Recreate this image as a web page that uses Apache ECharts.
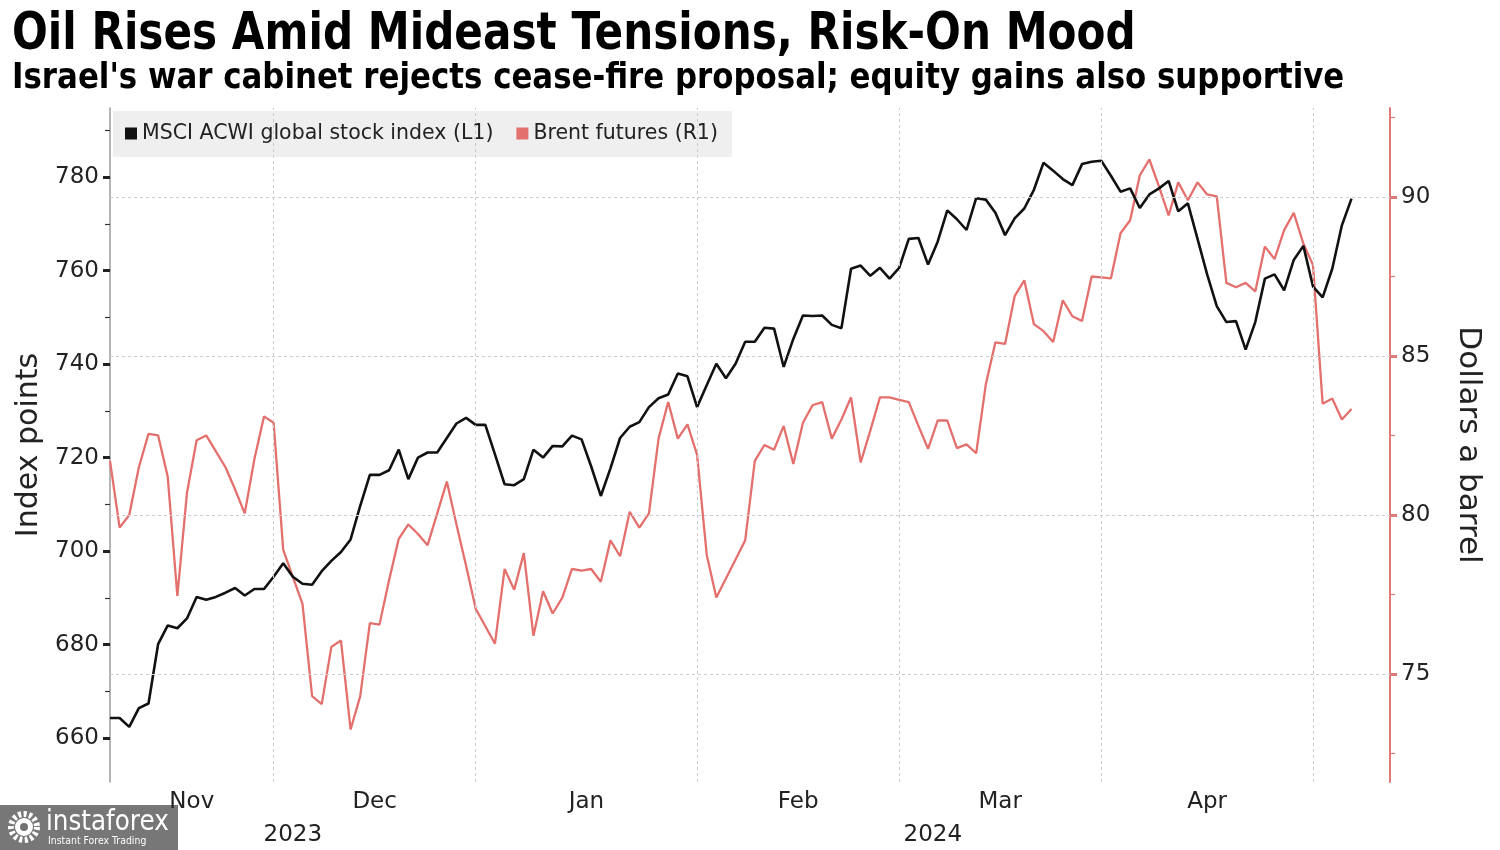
<!DOCTYPE html>
<html>
<head>
<meta charset="utf-8">
<script src="https://cdn.jsdelivr.net/npm/echarts@6/dist/echarts.min.js"></script>
<style>
html,body{margin:0;padding:0;background:#fff;overflow:hidden}
#chart{width:1500px;height:850px}
</style>
</head>
<body>
<div id="chart"></div>
<script>
const titleText = 'Oil Rises Amid Mideast Tensions, Risk-On Mood';
const subtitleText = "Israel's war cabinet rejects cease-fire proposal; equity gains also supportive";
const seriesNames = ['MSCI ACWI global stock index (L1)', 'Brent futures (R1)'];
const leftAxisName = 'Index points';
const rightAxisName = 'Dollars a barrel';

// trading days (weekdays) on the horizontal axis
const dates = [
  '2023-11-07','2023-11-08','2023-11-09','2023-11-10','2023-11-13','2023-11-14','2023-11-15','2023-11-16','2023-11-17',
  '2023-11-20','2023-11-21','2023-11-22','2023-11-23','2023-11-24','2023-11-27','2023-11-28','2023-11-29','2023-11-30',
  '2023-12-01','2023-12-04','2023-12-05','2023-12-06','2023-12-07','2023-12-08','2023-12-11','2023-12-12','2023-12-13',
  '2023-12-14','2023-12-15','2023-12-18','2023-12-19','2023-12-20','2023-12-21','2023-12-22','2023-12-25','2023-12-26',
  '2023-12-27','2023-12-28','2023-12-29',
  '2024-01-01','2024-01-02','2024-01-03','2024-01-04','2024-01-05','2024-01-08','2024-01-09','2024-01-10','2024-01-11',
  '2024-01-12','2024-01-15','2024-01-16','2024-01-17','2024-01-18','2024-01-19','2024-01-22','2024-01-23','2024-01-24',
  '2024-01-25','2024-01-26','2024-01-29','2024-01-30','2024-01-31',
  '2024-02-01','2024-02-02','2024-02-05','2024-02-06','2024-02-07','2024-02-08','2024-02-09','2024-02-12','2024-02-13',
  '2024-02-14','2024-02-15','2024-02-16','2024-02-19','2024-02-20','2024-02-21','2024-02-22','2024-02-23','2024-02-26',
  '2024-02-27','2024-02-28','2024-02-29',
  '2024-03-01','2024-03-04','2024-03-05','2024-03-06','2024-03-07','2024-03-08','2024-03-11','2024-03-12','2024-03-13',
  '2024-03-14','2024-03-15','2024-03-18','2024-03-19','2024-03-20','2024-03-21','2024-03-22','2024-03-25','2024-03-26',
  '2024-03-27','2024-03-28','2024-03-29',
  '2024-04-01','2024-04-02','2024-04-03','2024-04-04','2024-04-05','2024-04-08','2024-04-09','2024-04-10','2024-04-11',
  '2024-04-12','2024-04-15','2024-04-16','2024-04-17','2024-04-18','2024-04-19','2024-04-22','2024-04-23','2024-04-24',
  '2024-04-25','2024-04-26','2024-04-29','2024-04-30',
  '2024-05-01','2024-05-02','2024-05-03','2024-05-06'
];

// MSCI ACWI (left axis, index points)
const msciAcwi = [
  664.3,664.3,662.4,666.4,667.4,680.1,684.1,683.5,685.6,690.2,689.6,690.2,691.1,692.1,690.5,691.9,691.9,694.5,
  697.4,694.5,693.0,692.8,695.7,697.9,699.8,702.5,709.7,716.3,716.3,717.3,721.7,715.4,720.0,721.1,721.1,724.2,727.3,728.5,727.0,
  727.0,720.7,714.3,714.1,715.4,721.7,720.0,722.5,722.4,724.7,723.9,718.1,711.8,717.7,724.2,726.6,727.6,730.8,732.7,733.5,738.0,737.4,730.8,
  735.5,740.1,737.0,740.1,744.8,744.8,747.8,747.6,739.4,745.4,750.4,750.3,750.4,748.4,747.7,760.4,761.1,758.9,760.6,758.3,760.6,
  766.8,767.0,761.3,766.2,772.9,771.0,768.7,775.5,775.2,772.4,767.6,771.2,773.3,777.3,783.1,781.4,779.6,778.3,782.8,783.3,783.5,
  780.3,776.9,777.6,773.4,776.3,777.6,779.2,772.7,774.4,766.8,759.2,752.4,749.0,749.2,743.1,749.0,758.3,759.2,755.8,762.3,765.3,756.6,
  754.3,760.4,769.7,775.4
];

// Brent futures (right axis, dollars a barrel); null = no print
const brent = [
  81.7,79.6,80.0,81.5,82.55,82.5,81.2,77.45,80.7,82.35,82.5,82.0,81.5,80.8,80.05,81.75,83.1,82.9,
  78.9,78.05,77.2,74.3,74.05,75.85,76.05,73.25,74.3,76.6,76.55,77.95,79.25,79.7,79.4,79.05,null,81.05,79.7,78.4,77.05,
  null,75.95,78.3,77.65,78.8,76.2,77.6,76.9,77.4,78.3,78.25,78.3,77.9,79.2,78.7,80.1,79.6,80.05,82.4,83.55,82.4,82.85,81.9,
  78.75,77.4,78.0,78.6,79.2,81.7,82.2,82.05,82.8,81.6,82.9,83.45,83.55,82.4,83.0,83.7,81.65,82.65,83.7,83.7,83.62,
  83.55,82.8,82.08,82.97,82.97,82.1,82.22,81.94,84.1,85.43,85.38,86.88,87.38,86.0,85.78,85.44,86.75,86.25,86.1,87.5,87.47,
  87.44,88.86,89.27,90.68,91.18,90.33,89.42,90.46,89.9,90.46,90.08,90.02,87.3,87.16,87.3,87.03,88.44,88.05,88.96,89.5,88.53,87.86,
  83.5,83.66,83.0,83.33
];

const leftAxisLabels = [660, 680, 700, 720, 740, 760, 780];
const leftAxisMinorTicks = [670, 690, 710, 730, 750, 770, 790];
const rightAxisLabels = [75, 80, 85, 90];
const rightAxisMinorTicks = [72.5, 77.5, 82.5, 87.5, 92.5];
const monthAbbr = ['Jan','Feb','Mar','Apr','May','Jun','Jul','Aug','Sep','Oct','Nov','Dec'];

const axisSlots = 133;            // trading-day slots shown on the time axis
const leftRange = [650.6, 794.8];
const rightRange = [71.6, 92.8];

const FONT = '"DejaVu Sans", "Noto Sans", sans-serif';
const BLACK = '#111111';
const RED = '#e4706e';
const AXIS_RED = '#e07a78';

// month / year boundaries derived from the dates
const monthEnds = [], yearEnds = [];
for (let i = 0; i < dates.length - 1; i++) {
  if (dates[i].slice(5, 7) !== dates[i + 1].slice(5, 7)) monthEnds.push(i);
  if (dates[i].slice(0, 4) !== dates[i + 1].slice(0, 4)) yearEnds.push(i);
}
function spans(ends, labelOf) {
  const starts = [0].concat(ends), stops = ends.concat([axisSlots]);
  const out = [];
  for (let k = 0; k < starts.length; k++) {
    const first = k === 0 ? 0 : starts[k] + 1;
    out.push({ center: (starts[k] + stops[k]) / 2, width: stops[k] - starts[k], label: labelOf(dates[first]) });
  }
  return out;
}
const monthSpans = spans(monthEnds, d => monthAbbr[+d.slice(5, 7) - 1]).filter(s => s.width >= 10);
const yearSpans = spans(yearEnds, d => d.slice(0, 4));
const monthLabelMap = {}; monthSpans.forEach(s => monthLabelMap[s.center.toFixed(2)] = s.label);
const yearLabelMap = {}; yearSpans.forEach(s => yearLabelMap[s.center.toFixed(2)] = s.label);

const msciData = msciAcwi.map((v, i) => [i, v]);
const brentData = brent.map((v, i) => [i, v]).filter(p => p[1] !== null);

const chart = echarts.init(document.getElementById('chart'), null, { renderer: 'canvas' });

const xBase = {
  type: 'value', min: 0, max: axisSlots, gridIndex: 0,
  axisLine: { show: false, onZero: false }, axisTick: { show: false }, splitLine: { show: false }
};

const option = {
  backgroundColor: '#ffffff',
  animation: false,
  grid: { left: 110, right: 110, top: 108, bottom: 68, containLabel: false },
  legend: {
    data: seriesNames,
    left: 113, top: 111,
    padding: [12, 14, 13, 12],
    itemGap: 23, itemWidth: 12, itemHeight: 12,
    icon: 'rect',
    backgroundColor: '#efefef',
    textStyle: { fontSize: 20.5, color: '#222', fontFamily: FONT },
    itemStyle: { borderWidth: 0 }
  },
  xAxis: [
    Object.assign({}, xBase, {
      position: 'bottom',
      axisLabel: {
        customValues: monthSpans.map(s => s.center),
        formatter: v => monthLabelMap[Number(v).toFixed(2)] || '',
        fontSize: 23, color: '#222', fontFamily: FONT, margin: 9
      }
    }),
    Object.assign({}, xBase, {
      position: 'bottom', offset: 33,
      axisLabel: {
        customValues: yearSpans.map(s => s.center),
        formatter: v => yearLabelMap[Number(v).toFixed(2)] || '',
        fontSize: 23, color: '#222', fontFamily: FONT, margin: 9
      }
    })
  ],
  yAxis: [
    {
      type: 'value', position: 'left', min: leftRange[0], max: leftRange[1],
      name: leftAxisName, nameLocation: 'middle', nameGap: 63,
      nameTextStyle: { fontSize: 30, color: '#222', fontFamily: FONT },
      axisLine: { show: true, onZero: false, lineStyle: { color: '#9c9c9c', width: 1.5 } },
      axisTick: { show: true, customValues: leftAxisLabels, length: 7, lineStyle: { color: '#222', width: 3 } },
      axisLabel: { customValues: leftAxisLabels, fontSize: 23, color: '#222', fontFamily: FONT, margin: 11 },
      splitLine: { show: false }
    },
    {
      type: 'value', position: 'right', min: rightRange[0], max: rightRange[1],
      name: rightAxisName, nameLocation: 'middle', nameGap: 63, nameRotate: -90,
      nameTextStyle: { fontSize: 31, color: '#222', fontFamily: FONT },
      axisLine: { show: true, onZero: false, lineStyle: { color: AXIS_RED, width: 2 } },
      axisTick: { show: true, customValues: rightAxisLabels, length: 7, lineStyle: { color: AXIS_RED, width: 3 } },
      axisLabel: { customValues: rightAxisLabels, fontSize: 23, color: '#222', fontFamily: FONT, margin: 11 },
      splitLine: { show: false }
    },
    {
      type: 'value', position: 'left', min: leftRange[0], max: leftRange[1],
      axisLine: { show: false, onZero: false },
      axisTick: { show: true, customValues: leftAxisMinorTicks, length: 5, lineStyle: { color: '#333', width: 1.2 } },
      axisLabel: { show: false }, splitLine: { show: false }
    },
    {
      type: 'value', position: 'right', min: rightRange[0], max: rightRange[1],
      axisLine: { show: false, onZero: false },
      axisTick: { show: true, customValues: rightAxisMinorTicks, length: 5, lineStyle: { color: AXIS_RED, width: 1.2 } },
      axisLabel: { show: false }, splitLine: { show: false }
    }
  ],
  series: [
    {
      name: 'gridlines', type: 'line', xAxisIndex: 0, yAxisIndex: 1, z: 1, silent: true,
      data: brentData, symbol: 'none', lineStyle: { opacity: 0 }, tooltip: { show: false },
      markLine: {
        silent: true, symbol: 'none', label: { show: false }, animation: false,
        lineStyle: { color: '#cdcdcd', type: [3, 3], width: 1 },
        data: rightAxisLabels.map(v => ({ yAxis: v })).concat(monthEnds.map(i => ({ xAxis: i })))
      }
    },
    {
      name: seriesNames[1], type: 'line', xAxisIndex: 0, yAxisIndex: 1, z: 3,
      data: brentData, symbol: 'none', showSymbol: false,
      lineStyle: { color: RED, width: 2.3 }, itemStyle: { color: RED }
    },
    {
      name: seriesNames[0], type: 'line', xAxisIndex: 0, yAxisIndex: 0, z: 4,
      data: msciData, symbol: 'none', showSymbol: false,
      lineStyle: { color: BLACK, width: 2.6 }, itemStyle: { color: BLACK }
    }
  ],
  graphic: [
    { type: 'text', x: 12, y: 9, scaleX: 0.811, z: 10,
      style: { text: titleText, fontSize: 52, fontWeight: 'bold', fontFamily: FONT, fill: '#000', verticalAlign: 'top' } },
    { type: 'text', x: 12, y: 61, scaleX: 0.857, z: 10,
      style: { text: subtitleText, fontSize: 36, fontWeight: 'bold', fontFamily: FONT, fill: '#000', verticalAlign: 'top' } },
    { type: 'group', z: 20, children: [
      { type: 'rect', shape: { x: 0, y: 805, width: 178, height: 45 }, style: { fill: 'rgba(100,100,100,0.88)' } },
      { type: 'circle', shape: { cx: 24, cy: 827, r: 13 }, style: { fill: 'none', stroke: '#fff', lineWidth: 6, lineDash: [3, 2.5] } },
      { type: 'circle', shape: { cx: 24, cy: 827, r: 9 }, style: { fill: '#fff' } },
      { type: 'circle', shape: { cx: 24, cy: 827, r: 4 }, style: { fill: '#707070' } },
      { type: 'text', x: 46, y: 808, scaleX: 0.85, style: { text: 'instaforex', fontSize: 29, fontFamily: FONT, fill: '#fff', verticalAlign: 'top' } },
      { type: 'text', x: 48, y: 836, scaleX: 0.85, style: { text: 'Instant Forex Trading', fontSize: 11, fontFamily: FONT, fill: '#fff', verticalAlign: 'top' } }
    ] }
  ]
};
chart.setOption(option);
</script>
</body>
</html>
